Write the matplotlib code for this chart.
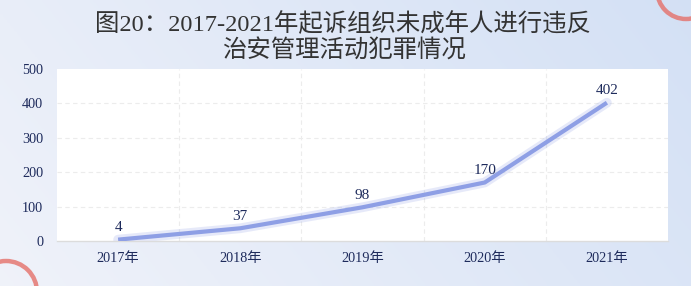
import numpy as np
import matplotlib
matplotlib.use("Agg")
import matplotlib.pyplot as plt
import matplotlib.patches as mpatches

# data
years = ["2017年", "2018年", "2019年", "2020年", "2021年"]
cases = [4, 37, 98, 170, 402]
y_ticks = [0, 100, 200, 300, 400, 500]
title = "图20：2017-2021年起诉组织未成年人进行违反\n治安管理活动犯罪情况"

W, H = 691, 286
fonts = ["Liberation Serif", "Noto Sans CJK SC", "DejaVu Sans"]
navy = "#1e2b5c"
line_color = "#8e9fe5"

fig = plt.figure(figsize=(W / 100, H / 100), dpi=100)

# background with a soft gradient and the two decorative rings
bg = fig.add_axes([0, 0, 1, 1], zorder=-10)
gx = np.linspace(0, 1, 200)
gy = np.linspace(0, 1, 100)
X, Y = np.meshgrid(gx, gy)
t = np.clip(0.75 * X + 0.25 * (1 - Y), 0, 1)
c0 = np.array([0.94, 0.95, 0.98])
c1 = np.array([0.83, 0.88, 0.96])
img = c0[None, None, :] * (1 - t[..., None]) + c1[None, None, :] * t[..., None]
bg.imshow(img, extent=[0, W, H, 0], aspect="auto")
bg.add_patch(mpatches.Circle((686, -10), 29, fill=False, lw=3.2, color="#e5706a", alpha=0.8))
bg.add_patch(mpatches.Circle((6, 292), 31, fill=False, lw=3.2, color="#e5706a", alpha=0.8))
bg.set_xlim(0, W)
bg.set_ylim(H, 0)
bg.axis("off")

fig.text(0.497, 0.87, title, ha="center", va="center", fontsize=17.6,
         family=fonts, color="#333333", linespacing=1.2)

ax = fig.add_axes([57 / W, 1 - 241 / H, (668 - 57) / W, (241 - 69) / H])
ax.set_facecolor("white")
x = np.arange(len(years))

# glow under the line
ax.plot(x, cases, color=line_color, lw=7, alpha=0.22, solid_capstyle="round", zorder=2)
ax.plot(x, cases, color=line_color, lw=3.0, solid_capstyle="butt", zorder=3)

for xi, v in zip(x, cases):
    ax.annotate(str(v), (xi, v), xytext=(0, 4), textcoords="offset points",
                ha="center", va="bottom", fontsize=11, family=fonts, color=navy)

ax.set_xlim(-0.5, len(years) - 0.5)
ax.set_ylim(0, 500)
ax.set_xticks(x)
ax.set_xticklabels(years, family=fonts, fontsize=10.3, color=navy)
ax.set_yticks(y_ticks)
ax.set_yticklabels([str(v) for v in y_ticks], family=fonts, fontsize=10.3, color=navy)
ax.tick_params(length=0, pad=8)
ax.tick_params(axis="y", pad=10)

# dashed grid: horizontal at ticks, vertical between categories
for v in y_ticks[1:-1]:
    ax.axhline(v, color="#ececec", lw=0.8, ls=(0, (4, 3)), zorder=1)
for b in np.arange(0.5, len(years) - 1, 1):
    ax.axvline(b, color="#ececec", lw=0.8, ls=(0, (4, 3)), zorder=1)

for s in ["top", "right", "left"]:
    ax.spines[s].set_visible(False)
ax.spines["bottom"].set_color("#dcdcdc")
ax.spines["bottom"].set_linewidth(1)

fig.savefig("out.png", dpi=100)
